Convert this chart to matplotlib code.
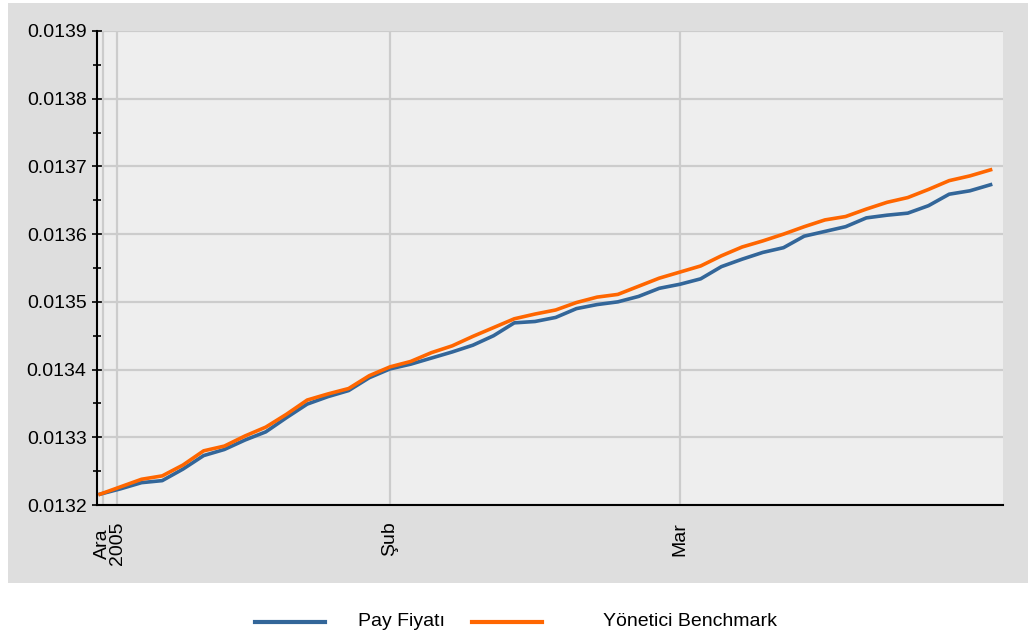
import matplotlib
matplotlib.use("Agg")
import matplotlib.pyplot as plt
from matplotlib.patches import Rectangle
from matplotlib.lines import Line2D
from matplotlib.ticker import MultipleLocator, FormatStrFormatter

plt.rcParams['font.family'] = ['Liberation Sans', 'DejaVu Sans']

# day number (1 = 1 Jan), sampled every two days
days = [3, 5, 7, 9, 11, 13, 15, 17, 19, 21, 23, 25, 27, 29, 31, 33, 35, 37, 39, 41,
        43, 45, 47, 49, 51, 53, 55, 57, 59, 61, 63, 65, 67, 69, 71, 73, 75, 77, 79,
        81, 83, 85, 87, 89]

pay_fiyati = [0.013216, 0.013224, 0.013233, 0.013236, 0.013253, 0.013273, 0.013282,
              0.013296, 0.013308, 0.013329, 0.013349, 0.013360, 0.013369, 0.013388,
              0.013401, 0.013408, 0.013417, 0.013426, 0.013436, 0.013450, 0.013469,
              0.013471, 0.013477, 0.013490, 0.013496, 0.013500, 0.013508, 0.013520,
              0.013526, 0.013534, 0.013552, 0.013563, 0.013573, 0.013580, 0.013597,
              0.013604, 0.013611, 0.013624, 0.013628, 0.013631, 0.013642, 0.013659,
              0.013664, 0.013673]

benchmark = [0.013216, 0.013227, 0.013238, 0.013243, 0.013259, 0.013280, 0.013287,
             0.013302, 0.013315, 0.013334, 0.013355, 0.013364, 0.013372, 0.013391,
             0.013404, 0.013412, 0.013425, 0.013435, 0.013449, 0.013462, 0.013475,
             0.013482, 0.013488, 0.013499, 0.013507, 0.013511, 0.013523, 0.013535,
             0.013544, 0.013553, 0.013568, 0.013581, 0.013590, 0.013600, 0.013611,
             0.013621, 0.013626, 0.013637, 0.013647, 0.013654, 0.013666, 0.013679,
             0.013686, 0.013695]

series_names = ['Pay Fiyatı', 'Yönetici Benchmark']
tick_days = [3.95, 31, 59]
tick_labels = ['Ara\n2005', 'Şub', 'Mar']
grid_days = [3.3, 4.65, 31, 59]

BLUE = '#336699'
ORANGE = '#ff6600'

W, H = 1028, 636
fig = plt.figure(figsize=(W / 100, H / 100), dpi=100)
fig.patch.set_facecolor('white')
# gray panel behind the chart
fig.add_artist(Rectangle((8 / W, 53 / H), 1020 / W, 580 / H,
                         transform=fig.transFigure, facecolor='#dedede',
                         edgecolor='none', zorder=-5))

ax = fig.add_axes([97 / W, 131 / H, 906 / W, 474 / H])
ax.set_zorder(2)
ax.set_facecolor('#eeeeee')

for d in grid_days:
    ax.axvline(d, color='#cccccc', lw=1.6, zorder=1)
ax.yaxis.grid(True, color='#cccccc', lw=1.6, zorder=1)
ax.set_axisbelow(True)

ax.plot(days, pay_fiyati, color=BLUE, lw=2.6, zorder=3)
ax.plot(days, benchmark, color=ORANGE, lw=2.6, zorder=4)

ax.set_xlim(2.7, 90.2)
ax.set_ylim(0.0132, 0.0139)
ax.yaxis.set_major_locator(MultipleLocator(0.0001))
ax.yaxis.set_minor_locator(MultipleLocator(0.00005))
ax.yaxis.set_major_formatter(FormatStrFormatter('%.4f'))
ax.tick_params(axis='y', which='major', direction='inout', length=7, width=1.2,
               labelsize=14, pad=4)
ax.tick_params(axis='y', which='minor', direction='inout', length=6, width=1.2)

ax.set_xticks(tick_days)
ax.set_xticklabels(tick_labels, rotation=90, va='top', ha='center',
                   fontsize=14, linespacing=0.85)
ax.tick_params(axis='x', length=0, pad=12)

for s in ['top', 'right']:
    ax.spines[s].set_visible(False)
for s in ['left', 'bottom']:
    ax.spines[s].set_linewidth(1.5)
    ax.spines[s].set_color('black')

# legend laid out like the original (line, then name)
leg_y = 1 - 622 / H
for name, col, x0, xt in zip(series_names, [BLUE, ORANGE], [255, 472], [358, 603]):
    fig.add_artist(Line2D([x0 / W, (x0 + 70) / W], [leg_y, leg_y],
                          transform=fig.transFigure, color=col, lw=3))
    fig.text(xt / W, leg_y, name, fontsize=14, va='center', ha='left')

fig.savefig('out.png', dpi=100, facecolor=fig.get_facecolor())
